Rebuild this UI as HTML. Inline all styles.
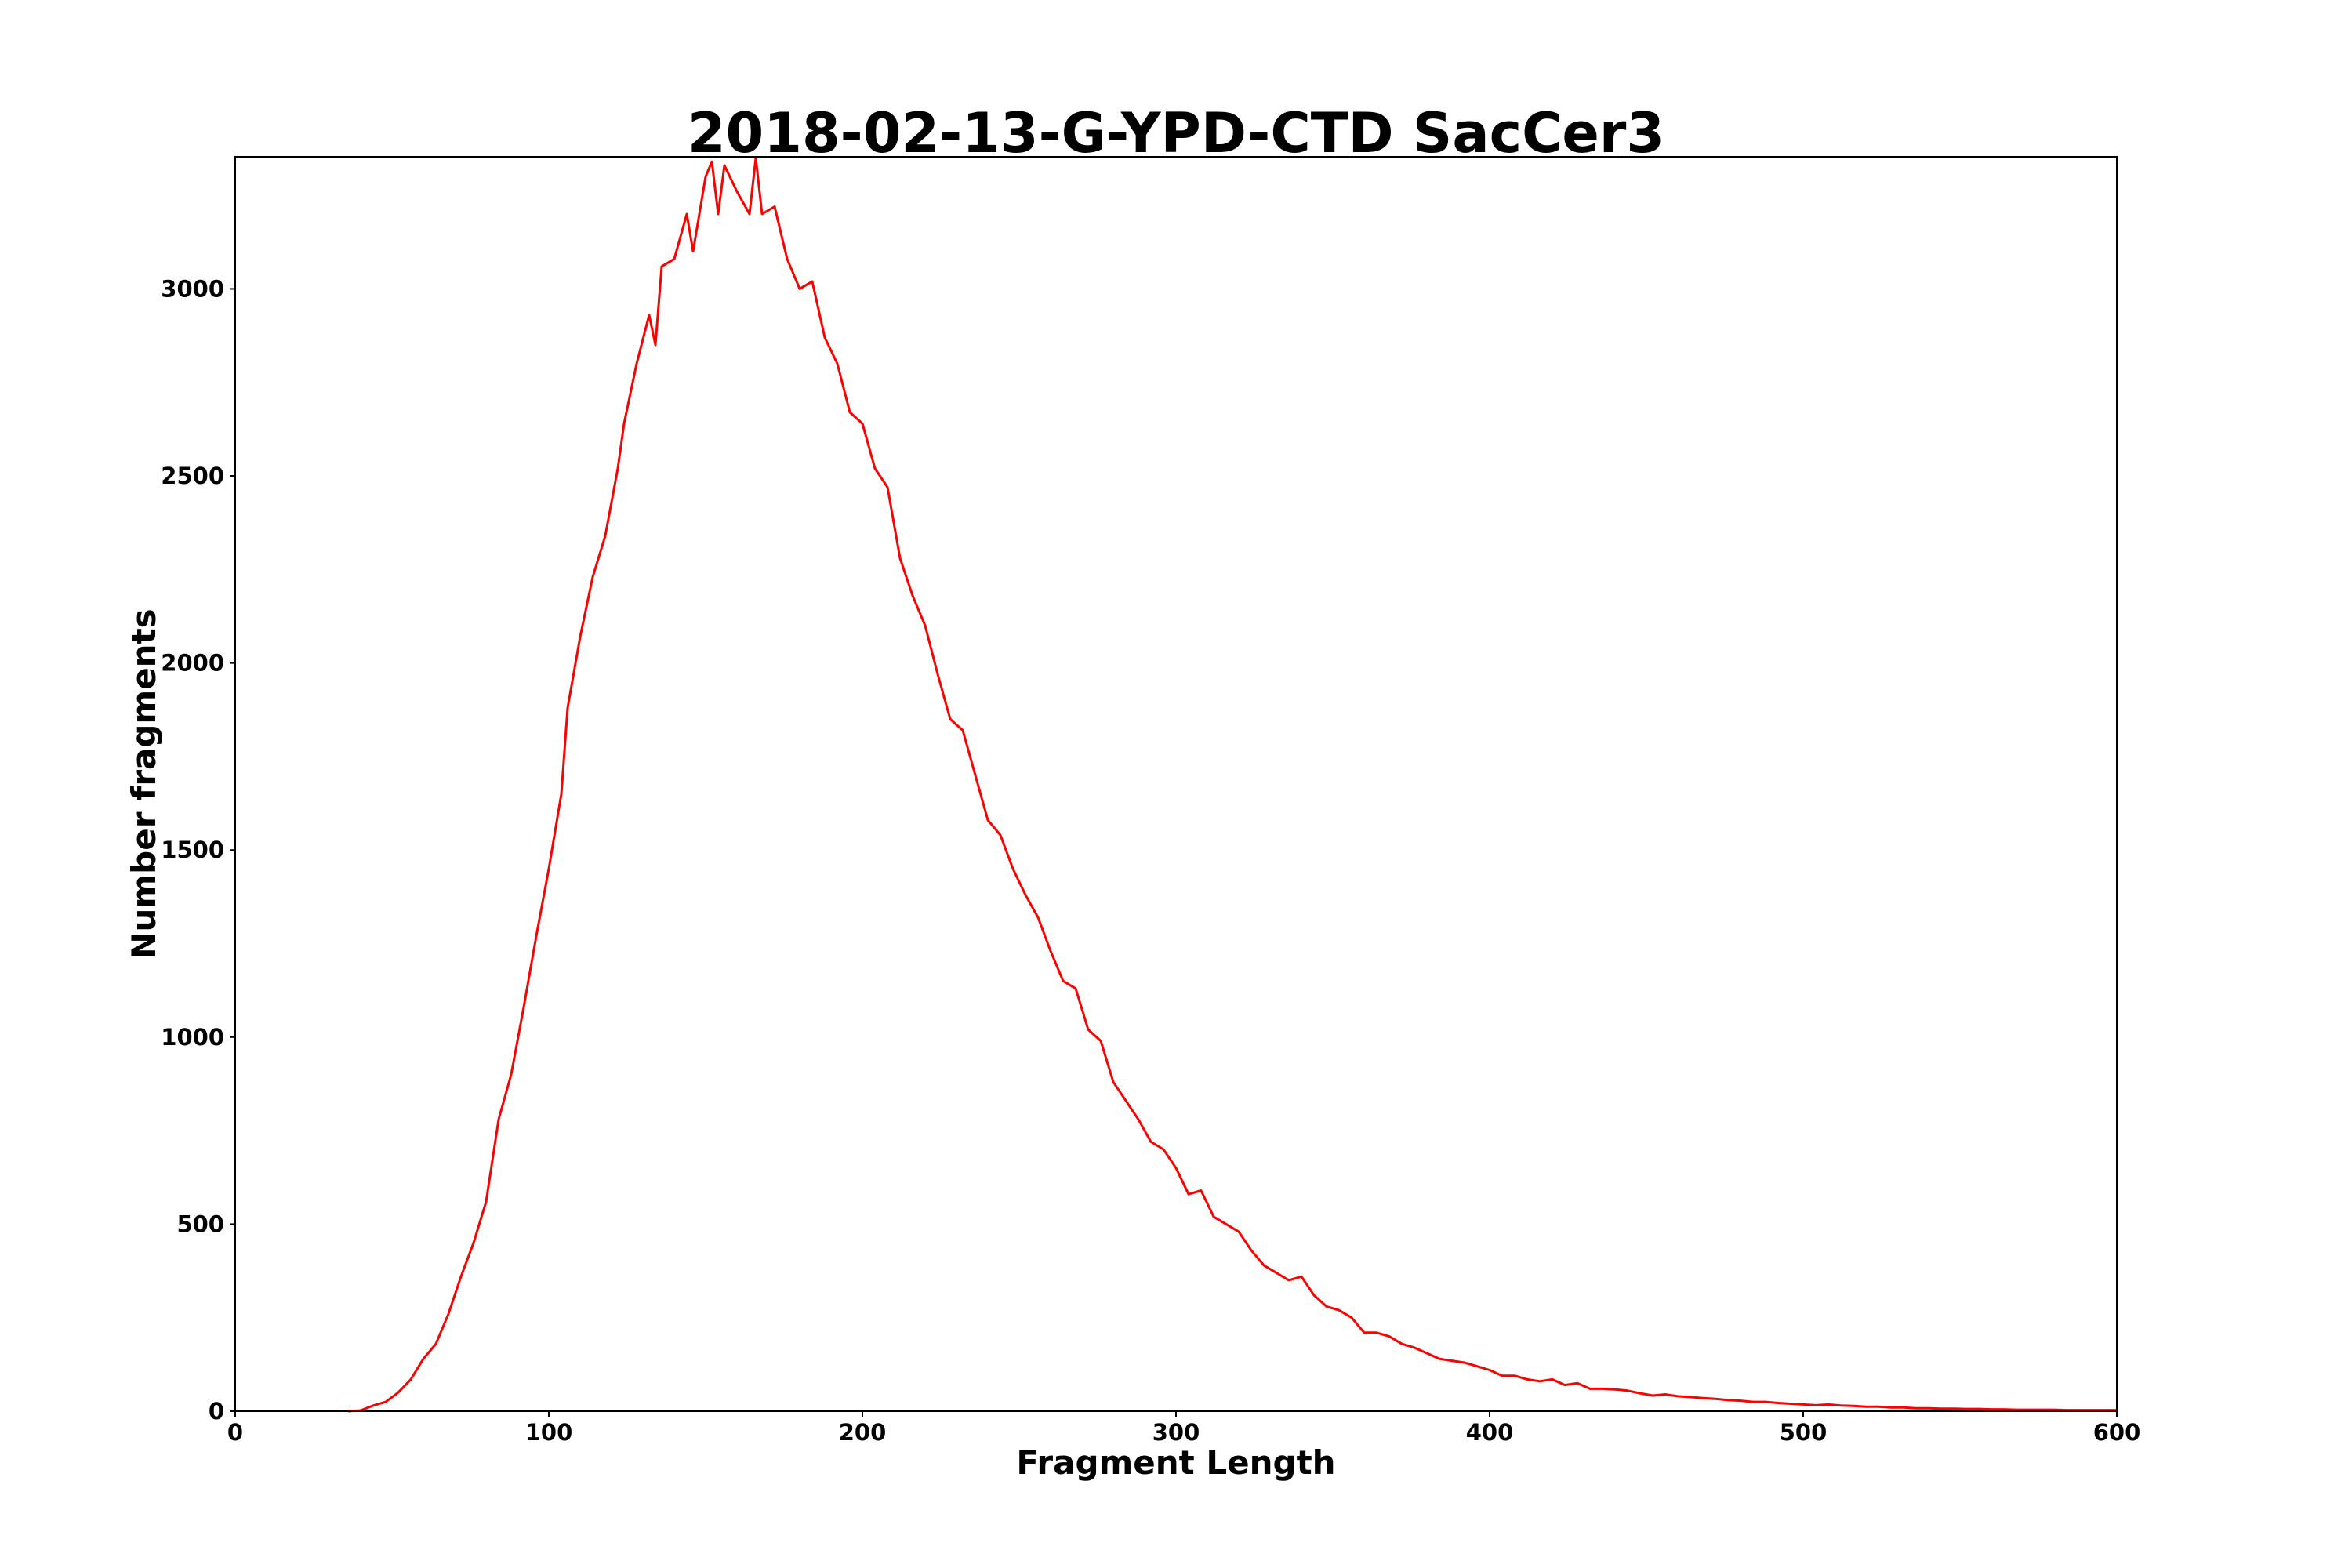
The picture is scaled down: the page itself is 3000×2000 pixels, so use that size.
<!DOCTYPE html>
<html><head><meta charset="utf-8"><style>
html,body{margin:0;padding:0;background:#fff;}
svg{display:block;font-family:"DejaVu Sans","Liberation Sans",sans-serif;font-weight:bold;}
</style></head><body>
<svg id="chart" width="3000" height="2000" viewBox="0 0 3000 2000" xmlns="http://www.w3.org/2000/svg">
<rect width="3000" height="2000" fill="#fff"/>
<text x="1500" y="194" text-anchor="middle" font-size="70">2018-02-13-G-YPD-CTD SacCer3</text>
<g id="xticks"></g><g id="yticks"></g>
<path id="line" fill="none" stroke="#ff0000" stroke-width="3" stroke-linejoin="round"/>
<rect x="300" y="200" width="2400" height="1600" fill="none" stroke="#000" stroke-width="2"/>
<text x="1500" y="1880" text-anchor="middle" font-size="42">Fragment Length</text>
<text transform="translate(198,1000) rotate(-90)" text-anchor="middle" font-size="42">Number fragments</text>
</svg>
<script>
const lengths=[36,40,44,48,52,56,60,64,68,72,76,80,84,88,92,96,100,104,106,110,114,118,122,124,128,132,134,136,140,144,146,150,152,154,156,160,164,166,168,172,176,180,184,188,192,196,200,204,208,212,216,220,224,228,232,236,240,244,248,252,256,260,264,268,272,276,280,284,288,292,296,300,304,308,312,316,320,324,328,332,336,340,344,348,352,356,360,364,368,372,376,380,384,388,392,396,400,404,408,412,416,420,424,428,432,436,440,444,448,452,456,460,464,468,472,476,480,484,488,492,496,500,504,508,512,516,520,524,528,532,536,540,544,548,552,556,560,564,568,572,576,580,584,588,592,596,600];
const counts=[0,2,15,25,50,85,140,180,260,360,450,560,780,900,1080,1270,1450,1650,1880,2070,2230,2340,2520,2640,2800,2930,2850,3060,3080,3200,3100,3300,3340,3200,3330,3260,3200,3350,3200,3220,3080,3000,3020,2870,2800,2670,2640,2520,2470,2280,2180,2100,1970,1850,1820,1700,1580,1540,1450,1380,1320,1230,1150,1130,1020,990,880,830,780,720,700,650,580,590,520,500,480,430,390,370,350,360,310,280,270,250,210,210,200,180,170,155,140,135,130,120,110,95,95,85,80,85,70,75,60,60,58,55,48,42,45,40,38,35,33,30,28,25,25,22,20,18,16,18,15,14,12,12,10,10,8,8,7,7,6,6,5,5,4,4,4,4,3,3,3,3,3];
const xTickLabels=["0","100","200","300","400","500","600"];
const yTickLabels=["0","500","1000","1500","2000","2500","3000"];
const X0=300,X1=2700,Y0=1800,Y1=200,XMAX=600,YMAX=3353;
const xs=v=>X0+v/XMAX*(X1-X0), ys=v=>Y0-v/YMAX*(Y0-Y1);
const NS="http://www.w3.org/2000/svg";
let d=lengths.map((l,i)=>(i?"L":"M")+xs(l).toFixed(1)+","+ys(counts[i]).toFixed(1)).join("");
document.getElementById("line").setAttribute("d",d);
const gx=document.getElementById("xticks"),gy=document.getElementById("yticks");
xTickLabels.forEach(t=>{const x=xs(+t);
 const l=document.createElementNS(NS,"line");l.setAttribute("x1",x);l.setAttribute("x2",x);l.setAttribute("y1",Y0);l.setAttribute("y2",Y0+7);l.setAttribute("stroke","#000");l.setAttribute("stroke-width","2");
 
 
 gx.appendChild(l);
 const s=document.createElementNS(NS,"text");s.setAttribute("x",x);s.setAttribute("y",Y0+37);s.setAttribute("text-anchor","middle");s.setAttribute("font-size","29");s.textContent=t;
 
 
 gx.appendChild(s);});
yTickLabels.forEach(t=>{const y=ys(+t);
 const l=document.createElementNS(NS,"line");l.setAttribute("x1",X0-7);l.setAttribute("x2",X0);l.setAttribute("y1",y);l.setAttribute("y2",y);l.setAttribute("stroke","#000");l.setAttribute("stroke-width","2");
 
 
 gy.appendChild(l);
 const s=document.createElementNS(NS,"text");s.setAttribute("x",X0-14);s.setAttribute("y",y+10);s.setAttribute("text-anchor","end");s.setAttribute("font-size","29");s.textContent=t;
 
 
 gy.appendChild(s);});
</script>
</body></html>
